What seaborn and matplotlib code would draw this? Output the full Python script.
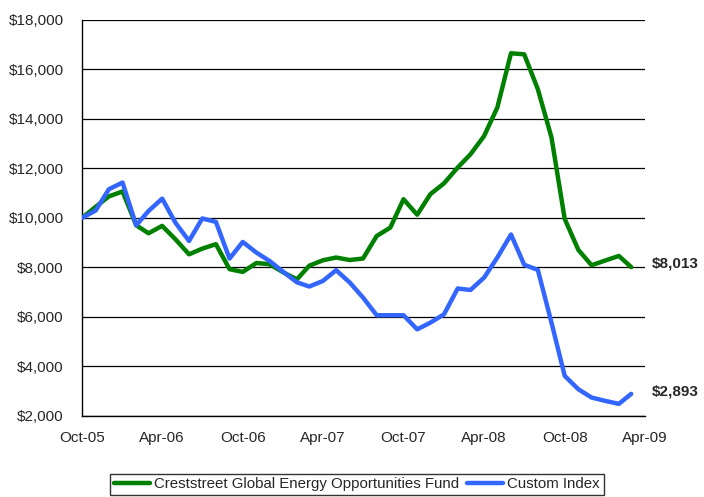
import pandas as pd
import seaborn as sns
import matplotlib.pyplot as plt
from matplotlib.ticker import FuncFormatter

# monthly values, Oct-05 .. Mar-09
fund = [10000, 10450, 10870, 11070, 9705, 9380, 9680, 9140, 8530, 8760,
        8940, 7930, 7820, 8180, 8130, 7800, 7520, 8070, 8290, 8400,
        8300, 8360, 9270, 9610, 10755, 10130, 10960, 11400, 12035, 12570,
        13310, 14460, 16650, 16610, 15200, 13250, 9960, 8710, 8090, 8280,
        8465, 8013]
index = [10000, 10300, 11160, 11430, 9700, 10280, 10780, 9810, 9070, 9980,
         9840, 8360, 9030, 8600, 8260, 7820, 7400, 7230, 7455, 7890,
         7390, 6785, 6070, 6070, 6070, 5500, 5770, 6110, 7150, 7090,
         7590, 8400, 9330, 8110, 7900, 5770, 3620, 3080, 2745, 2610,
         2490, 2893]
fund_name = "Creststreet Global Energy Opportunities Fund"
index_name = "Custom Index"
tick_labels = ["Oct-05", "Apr-06", "Oct-06", "Apr-07", "Oct-07", "Apr-08", "Oct-08", "Apr-09"]

months = pd.date_range("2005-10-01", periods=len(fund), freq="MS")
df = pd.DataFrame({"Month": list(months) * 2,
                   "Value": fund + index,
                   "Series": [fund_name] * len(fund) + [index_name] * len(index)})

sns.set_style("white")
plt.rcParams["font.family"] = ["Liberation Sans", "DejaVu Sans"]

fig = plt.figure(figsize=(7.04, 4.97), dpi=100)
ax = fig.add_axes([0.1165, 0.163, 0.7995, 0.797])

sns.lineplot(data=df, x="Month", y="Value", hue="Series",
             palette={fund_name: "#008000", index_name: "#3366FF"},
             linewidth=3.2, ax=ax, legend=False, zorder=3)

ax.set_ylim(2000, 18000)
ax.set_yticks(range(2000, 18001, 2000))
ax.yaxis.set_major_formatter(FuncFormatter(lambda v, p: f"${v:,.0f}"))
tick_dates = pd.date_range("2005-10-01", periods=len(tick_labels), freq="6MS")
ax.set_xlim(tick_dates[0], tick_dates[-1])
ax.set_xticks(tick_dates)
ax.set_xticklabels(tick_labels)
ax.set_xlabel("")
ax.set_ylabel("")

ax.grid(axis="y", color="black", linewidth=0.9)
ax.grid(axis="x", visible=False)
for s in ["top", "right"]:
    ax.spines[s].set_visible(False)
for s in ["left", "bottom"]:
    ax.spines[s].set_color("black")
    ax.spines[s].set_linewidth(1.0)
ax.tick_params(axis="both", which="both", direction="out", length=5,
               width=1, color="black", labelsize=11)
ax.tick_params(axis="y", pad=8)
ax.tick_params(axis="x", pad=6)

ax.text(1.012, fund[-1] + 150, f"${fund[-1]:,}", transform=ax.get_yaxis_transform(),
        fontsize=11, fontweight="bold", va="center", ha="left")
ax.text(1.012, index[-1] + 100, f"${index[-1]:,}", transform=ax.get_yaxis_transform(),
        fontsize=11, fontweight="bold", va="center", ha="left")

handles = [plt.Line2D([], [], color="#008000", linewidth=3.2),
           plt.Line2D([], [], color="#3366FF", linewidth=3.2)]
leg = fig.legend(handles, [fund_name, index_name], loc="upper center",
                 bbox_to_anchor=(0.507, 0.047), ncol=2, fontsize=10.8,
                 frameon=True, fancybox=False, edgecolor="black",
                 handlelength=2.4, handletextpad=0.3, columnspacing=0.5,
                 borderpad=0.25, borderaxespad=0)
leg.get_frame().set_linewidth(1.0)

fig.savefig("out.png", dpi=100)
